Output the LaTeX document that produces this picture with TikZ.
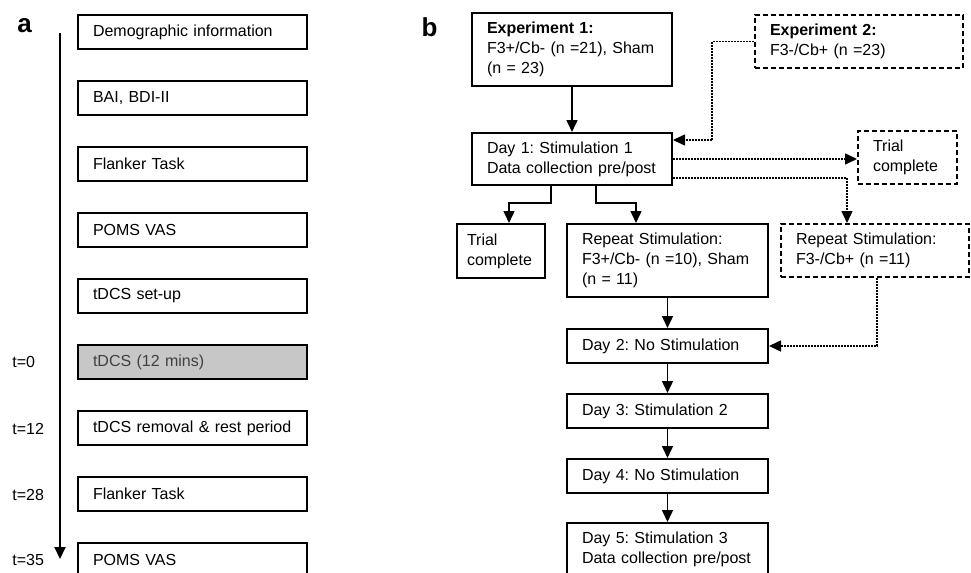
\documentclass[tikz,border=0pt]{standalone}
\usepackage{fontspec}
\setmainfont{Liberation Sans}
\usetikzlibrary{arrows.meta}
\frenchspacing
\begin{document}
\begin{tikzpicture}[x=0.5pt,y=-0.5pt,
  every node/.style={font=\fontsize{8}{10}\selectfont},
  box/.style={draw=black,line width=1pt,align=left,inner xsep=7.5pt,inner ysep=0pt},
  dbox/.style={box,dash pattern=on 2.5pt off 1.5pt},
  stepa/.style={box,text width=99.5pt,minimum height=17.25pt},
  tlabel/.style={anchor=west,inner sep=0pt},
  panel/.style={font=\fontsize{13}{15}\selectfont\bfseries},
  link/.style={line width=0.75pt,-{Triangle[length=6pt,width=5.5pt]}},
  dlink/.style={link,dash pattern=on 1pt off 0.5pt}]
        \useasboundingbox (0,0) rectangle (971,573);
        % panel a
        \node[panel] (pa) at (24.5,26) {a};
        \node[stepa] (a1) at (192.5,32) {Demographic information};
        \node[stepa] (a2) at (192.5,98) {BAI, BDI-II};
        \node[stepa] (a3) at (192.5,164) {Flanker Task};
        \node[stepa] (a4) at (192.5,230) {POMS VAS};
        \node[stepa] (a5) at (192.5,296) {tDCS set-up};
        \node[stepa,fill=black!22,text=black!75] (a6) at (192.5,362) {tDCS (12 mins)};
        \node[stepa] (a7) at (192.5,428) {tDCS removal \& rest period};
        \node[stepa] (a8) at (192.5,494) {Flanker Task};
        \node[stepa] (a9) at (192.5,560) {POMS VAS};
        \node[tlabel] (t0) at (12,362) {t=0};
        \node[tlabel] (t12) at (12,429) {t=12};
        \node[tlabel] (t28) at (12,495) {t=28};
        \node[tlabel] (t35) at (12,560) {t=35};
        \coordinate (tstart) at (60,33);
        \coordinate (tend) at (60,559);
        \draw[link,line width=1pt] (tstart) -- (tend);
        % panel b
        \node[panel] (pb) at (429.5,27) {b};
        \node[box,text width=85pt,minimum height=36.5pt] (exp1) at (572,49.5) {\textbf{Experiment 1:}\\F3+/Cb- (n =21), Sham\\(n = 23)};
        \node[dbox,text width=89pt,minimum height=26.5pt] (exp2) at (859,41.5) {\textbf{Experiment 2:}\\F3-/Cb+ (n =23)};
        \node[box,text width=85pt,minimum height=26pt] (day1) at (572,159) {Day 1: Stimulation 1\\Data collection pre/post};
        \node[dbox,text width=34.5pt,minimum height=26.5pt] (end2) at (907.5,157.5) {Trial\\complete};
        \node[box,text width=34pt,inner xsep=5pt,minimum height=27pt] (end1) at (501,251) {Trial\\complete};
        \node[box,text width=85.5pt,minimum height=36.5pt] (rep1) at (667.5,260.5) {Repeat Stimulation:\\F3+/Cb- (n =10), Sham\\(n = 11)};
        \node[dbox,text width=79pt,minimum height=26.5pt] (rep2) at (875,250.5) {Repeat Stimulation:\\F3-/Cb+ (n =11)};
        \node[box,text width=85.5pt,minimum height=17pt] (day2) at (667.5,346) {Day 2: No Stimulation};
        \node[box,text width=85.5pt,minimum height=17pt] (day3) at (667.5,411) {Day 3: Stimulation 2};
        \node[box,text width=85.5pt,minimum height=17pt] (day4) at (667.5,476) {Day 4: No Stimulation};
        \node[box,text width=85.5pt,minimum height=26.5pt] (day5) at (667.5,549.5) {Day 5: Stimulation 3\\Data collection pre/post};
        \draw[link] (exp1) -- (day1);
        \draw[dlink] (exp2.west) -- ++(-42,0) |- ([yshift=9.5pt]day1.east);
        \draw[dlink] (day1.east) -- (day1.east -| end2.west);
        \draw[dlink] ([yshift=-9.5pt]day1.east) -| ([xshift=-14pt]rep2.north);
        \draw[link] ([xshift=-10.5pt]day1.south) -- ++(0,17) -| ([xshift=4pt]end1.north);
        \draw[link] ([xshift=12pt]day1.south) -- ++(0,17) -| ([xshift=-15.75pt]rep1.north);
        \draw[link] (rep1) -- (day2);
        \draw[link] (day2) -- (day3);
        \draw[link] (day3) -- (day4);
        \draw[link] (day4) -- (day5);
        \draw[dlink] ([xshift=1pt]rep2.south) |- (day2.east);
\end{tikzpicture}
\end{document}
